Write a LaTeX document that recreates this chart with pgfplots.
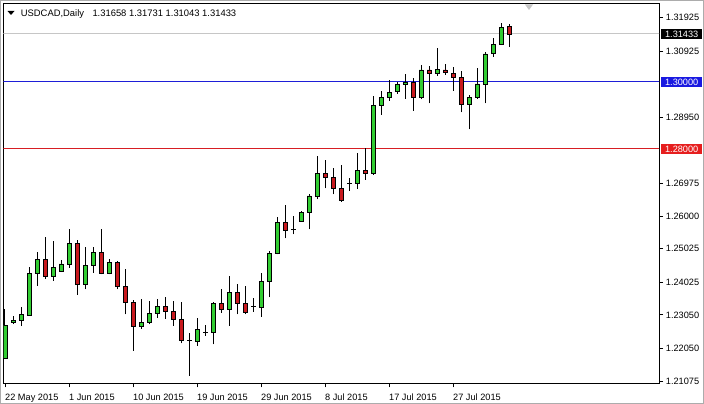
\documentclass[border=0pt]{standalone}
\usepackage{pgfplots}
\pgfplotsset{compat=1.18}
\usepackage{pgfplotstable}
\usepackage{fontspec}
\setmainfont{Liberation Sans}
\definecolor{bull}{RGB}{50,205,50}
\definecolor{bear}{RGB}{200,25,30}
\definecolor{lvlblue}{RGB}{30,30,215}
\definecolor{lvlbluebox}{RGB}{25,25,225}
\definecolor{lvlred}{RGB}{215,30,35}
\definecolor{lvlredbox}{RGB}{230,30,30}

\pgfplotstableread{
i o h l c
0 1.21761 1.23224 1.21731 1.22746
1 1.22815 1.23024 1.22776 1.22895
2 1.22895 1.23274 1.22716 1.23066
3 1.23045 1.24487 1.23015 1.24289
4 1.24289 1.24916 1.23919 1.24707
5 1.24707 1.25382 1.24119 1.24188
6 1.24188 1.25245 1.24069 1.24469
7 1.24337 1.24687 1.24328 1.24567
8 1.24558 1.25612 1.24457 1.25185
9 1.25185 1.25284 1.23642 1.23961
10 1.23961 1.25084 1.23812 1.24528
11 1.24528 1.25084 1.24307 1.24916
12 1.24916 1.25612 1.24260 1.24289
13 1.24289 1.24707 1.24260 1.24618
14 1.24618 1.24666 1.23812 1.23910
15 1.23910 1.24409 1.23066 1.23424
16 1.23424 1.23492 1.21979 1.22695
17 1.22695 1.23513 1.22636 1.22827
18 1.22827 1.23463 1.22767 1.23095
19 1.23095 1.23513 1.22964 1.23313
20 1.23313 1.23573 1.22934 1.23155
21 1.23155 1.23463 1.22725 1.22916
22 1.22916 1.23442 1.22200 1.22289
23 1.22289 1.22498 1.21233 1.22277
24 1.22260 1.22946 1.22128 1.22618
25 1.22530 1.22746 1.22418 1.22516
26 1.22516 1.23442 1.22170 1.23394
27 1.23394 1.23821 1.23113 1.23215
28 1.23215 1.24209 1.22725 1.23722
29 1.23722 1.23961 1.23066 1.23394
30 1.23394 1.23900 1.23066 1.23125
31 1.23300 1.23543 1.23143 1.23292
32 1.23274 1.24307 1.22994 1.24039
33 1.24039 1.24964 1.23573 1.24886
34 1.24890 1.25961 1.24857 1.25812
35 1.25812 1.26328 1.25334 1.25582
36 1.25590 1.26000 1.25454 1.25600
37 1.25851 1.26158 1.25830 1.26119
38 1.26110 1.26657 1.25603 1.26597
39 1.26576 1.27791 1.26498 1.27275
40 1.27275 1.27672 1.26827 1.27155
41 1.27155 1.27424 1.26648 1.26827
42 1.26827 1.27522 1.26427 1.26457
43 1.26976 1.27125 1.26755 1.26980
44 1.26976 1.27872 1.26806 1.27352
45 1.27352 1.28021 1.27075 1.27275
46 1.27275 1.29582 1.27230 1.29313
47 1.29313 1.29740 1.29015 1.29543
48 1.29543 1.30060 1.29442 1.29693
49 1.29710 1.30010 1.29650 1.29931
50 1.29931 1.30239 1.29493 1.29979
51 1.29979 1.30110 1.29143 1.29543
52 1.29543 1.30507 1.29484 1.30358
53 1.30358 1.30478 1.29364 1.30260
54 1.30260 1.31006 1.30179 1.30379
55 1.30358 1.30537 1.30209 1.30290
56 1.30260 1.30439 1.29740 1.30140
57 1.30140 1.30337 1.29096 1.29343
58 1.29343 1.29612 1.28588 1.29543
59 1.29543 1.30409 1.29493 1.29940
60 1.29940 1.30887 1.29364 1.30836
61 1.30860 1.31304 1.30755 1.31125
62 1.31125 1.31752 1.31100 1.31633
63 1.31658 1.31731 1.31043 1.31433
}\ohlc

\pgfplotsset{candleaxis/.style={
  scale only axis, width=655.5pt, height=379.5pt,
  at={(3.5pt,20.5pt)}, anchor=south west,
  xmin=-0.1875, xmax=81.75, ymin=1.21, ymax=1.32328,
}}

\begin{document}
\begin{tikzpicture}
\path[use as bounding box, fill=white] (0,0) rectangle (704pt,404pt);
\draw[gray!65, line width=1pt] (0.5pt,0.5pt) rectangle (703.5pt,403.5pt);

\begin{axis}[candleaxis,
  clip mode=individual,
  axis line style={black, line width=1pt},
  tick align=outside,
  major tick length=4pt,
  tick style={black, line width=0.8pt},
  xtick={0,8,16,24,32,40,48,56},
  xticklabels={22 May 2015,1 Jun 2015,10 Jun 2015,19 Jun 2015,29 Jun 2015,8 Jul 2015,17 Jul 2015,27 Jul 2015},
  xtick pos=bottom,
  xticklabel style={anchor=base west, inner sep=0pt, font=\fontsize{9.2pt}{11pt}\selectfont, yshift=-13.2pt},
  ytick={1.21075,1.22050,1.23050,1.24025,1.25025,1.26000,1.26975,1.28950,1.30925,1.31925},
  ytick pos=right, yticklabel pos=right,
  scaled y ticks=false,
  yticklabel style={anchor=base west, inner sep=0pt, font=\fontsize{9.2pt}{11pt}\selectfont, xshift=2.7pt, yshift=-3.3pt,
    /pgf/number format/fixed, /pgf/number format/fixed zerofill, /pgf/number format/precision=5},
  /pgf/number format/assume math mode=true,
]
\addplot[gray!45, line width=1pt, forget plot] coordinates {(-1,1.31433) (82,1.31433)};
\addplot[lvlblue, line width=1pt, forget plot] coordinates {(-1,1.30) (82,1.30)};
\addplot[lvlred, line width=1pt, forget plot] coordinates {(-1,1.28) (82,1.28)};
\addplot[draw=none, no markers, forget plot,
  error bars/.cd, y dir=plus, y explicit, error mark=none,
  error bar style={draw=black, line width=1pt}]
  table[x=i, y=l, y error plus expr=\thisrow{h}-\thisrow{l}] {\ohlc};

\node[fill=black, text=white, anchor=west, inner sep=0pt, minimum width=41pt, minimum height=9.5pt,
  font=\fontsize{9.2pt}{11pt}\selectfont, xshift=2pt] at (axis cs:81.75,1.31433) {1.31433};
\node[fill=lvlbluebox, text=white, anchor=west, inner sep=0pt, minimum width=41pt, minimum height=9.5pt,
  font=\fontsize{9.2pt}{11pt}\selectfont, xshift=2pt] at (axis cs:81.75,1.30) {1.30000};
\node[fill=lvlredbox, text=white, anchor=west, inner sep=0pt, minimum width=41pt, minimum height=9.5pt,
  font=\fontsize{9.2pt}{11pt}\selectfont, xshift=2pt] at (axis cs:81.75,1.28) {1.28000};
\end{axis}

\begin{axis}[candleaxis, hide axis, ybar stacked, bar width=4pt]
\addplot[draw=none, fill=none] table[x=i, y expr={min(\thisrow{o},\thisrow{c})}] {\ohlc};
\addplot[draw=black, line width=0.9pt, fill=bull] table[x=i, y expr={max(\thisrow{c}-\thisrow{o},0)}] {\ohlc};
\addplot[draw=black, line width=0.9pt, fill=bear] table[x=i, y expr={max(\thisrow{o}-\thisrow{c},0)}] {\ohlc};
\end{axis}

\fill[black] (7.5pt,393pt) -- (14.5pt,393pt) -- (11pt,389pt) -- cycle;
\node[anchor=base west, inner sep=0pt, font=\fontsize{9.4pt}{11pt}\selectfont] at (20.7pt,387.4pt) {USDCAD,Daily};
\node[anchor=base west, inner sep=0pt, font=\fontsize{9.4pt}{11pt}\selectfont] at (92.3pt,387.4pt) {1.31658 1.31731 1.31043 1.31433};
\fill[gray!45] (525pt,399.5pt) -- (533pt,399.5pt) -- (529pt,394pt) -- cycle;
\end{tikzpicture}
\end{document}
